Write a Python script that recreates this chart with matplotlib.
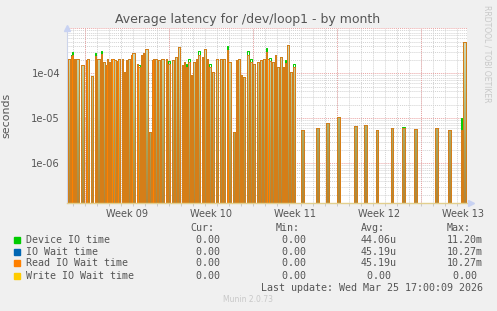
import numpy as np
import matplotlib
matplotlib.use("Agg")
import matplotlib.pyplot as plt
from matplotlib.ticker import FixedLocator, NullFormatter
from matplotlib.colors import LinearSegmentedColormap
from matplotlib.patches import Rectangle

# ---------------- data (time in days from left edge of graph) ----------------
spike_day = [0.11, 0.33, 0.44, 0.58, 0.75, 1.17, 1.56, 1.67, 2.00, 2.33, 2.53, 2.83,
             3.00, 3.23, 3.36, 3.50, 3.67, 3.78, 3.94, 4.14, 4.28, 4.56, 4.75, 4.92,
             5.11, 5.33, 5.44, 5.81, 5.94, 6.17, 6.36, 6.50, 6.86, 7.06, 7.19, 7.33,
             7.61, 7.83, 8.22, 8.44, 8.72, 9.00, 9.28, 9.56, 9.75, 9.92, 10.11, 10.31,
             10.53, 10.75, 10.94, 11.22, 11.42, 11.64, 11.86, 12.06, 12.42, 12.75,
             13.03, 13.31, 13.44, 13.86, 14.08, 14.28, 14.47, 14.64, 14.97, 15.25,
             15.47, 15.81, 16.08, 16.36, 16.56, 16.69, 16.86, 17.06, 17.33, 17.53,
             17.75, 17.97, 18.17, 18.36, 18.58, 18.81,
             19.50, 20.75, 21.58, 22.53, 23.92, 24.78, 25.72, 26.97, 27.94, 28.92,
             30.67, 31.78, 32.83, 33.03]

read_wait = [2.1e-4, 2.4e-4, 2.6e-4, 2.1e-4, 2.1e-4, 1.5e-4, 1.95e-4, 2.1e-4, 8.7e-5, 2.4e-4, 2.1e-4, 2.7e-4,
             1.8e-4, 1.5e-4, 2.1e-4, 1.8e-4, 2.1e-4, 2.1e-4, 1.95e-4, 1.85e-4, 2.1e-4, 2.1e-4, 1.07e-4, 1.95e-4,
             2.1e-4, 2.6e-4, 2.8e-4, 1.64e-4, 1.4e-4, 2.6e-4, 2.9e-4, 3.5e-4, 5.0e-6, 1.95e-4, 2.1e-4, 2.1e-4,
             1.95e-4, 2.1e-4, 2.1e-4, 1.6e-4, 1.95e-4, 2.3e-4, 3.8e-4, 1.5e-4, 1.8e-4, 1.4e-4, 1.8e-4, 9.0e-5,
             1.8e-4, 2.1e-4, 2.6e-4, 2.3e-4, 3.5e-4, 2.1e-4, 1.4e-4, 1.07e-4, 2.1e-4, 2.1e-4,
             2.1e-4, 3.3e-4, 1.8e-4, 5.0e-6, 1.95e-4, 2.1e-4, 9.0e-5, 8.3e-5, 2.6e-4, 1.8e-4,
             1.64e-4, 1.8e-4, 1.95e-4, 2.1e-4, 3.0e-4, 2.1e-4, 1.9e-4, 1.8e-4, 2.5e-4, 1.4e-4,
             2.3e-4, 1.4e-4, 1.7e-4, 4.2e-4, 1.07e-4, 1.4e-4,
             5.4e-6, 6.2e-6, 8.0e-6, 1.07e-5, 6.6e-6, 7.0e-6, 5.4e-6, 6.2e-6, 6.2e-6, 5.9e-6,
             6.2e-6, 5.4e-6, 5.5e-6, 4.9e-4]

device_time = [2.1e-4, 2.6e-4, 3.0e-4, 2.1e-4, 2.1e-4, 1.5e-4, 1.95e-4, 2.1e-4, 8.7e-5, 2.8e-4, 2.1e-4, 3.2e-4,
               1.8e-4, 1.5e-4, 2.1e-4, 1.8e-4, 2.1e-4, 2.1e-4, 1.95e-4, 1.85e-4, 2.1e-4, 2.1e-4, 1.07e-4, 1.95e-4,
               2.1e-4, 2.6e-4, 2.8e-4, 1.64e-4, 1.5e-4, 2.6e-4, 2.9e-4, 3.5e-4, 5.0e-6, 1.95e-4, 2.1e-4, 2.1e-4,
               1.95e-4, 2.1e-4, 2.1e-4, 1.85e-4, 1.95e-4, 2.3e-4, 3.8e-4, 1.5e-4, 1.8e-4, 1.64e-4, 2.1e-4, 9.0e-5,
               1.8e-4, 2.1e-4, 3.2e-4, 2.3e-4, 3.5e-4, 2.1e-4, 1.64e-4, 1.07e-4, 2.1e-4, 2.1e-4,
               2.1e-4, 4.0e-4, 1.8e-4, 5.0e-6, 1.95e-4, 2.1e-4, 9.0e-5, 8.3e-5, 3.2e-4, 2.1e-4,
               1.64e-4, 1.8e-4, 1.95e-4, 2.1e-4, 3.6e-4, 2.1e-4, 2.2e-4, 1.8e-4, 2.5e-4, 1.4e-4,
               2.3e-4, 1.4e-4, 1.95e-4, 4.2e-4, 1.07e-4, 1.64e-4,
               5.4e-6, 6.2e-6, 8.0e-6, 1.07e-5, 6.6e-6, 7.0e-6, 5.4e-6, 6.2e-6, 6.4e-6, 5.9e-6,
               6.2e-6, 5.4e-6, 1.0e-5, 5.0e-4]

week_labels = ["Week 09", "Week 10", "Week 11", "Week 12", "Week 13"]
week_label_day = [5.0, 12.0, 19.0, 26.0, 33.0]
week_start_day = [1.5, 8.5, 15.5, 22.5, 29.5]

legend_names = ["Device IO time", "IO Wait time", "Read IO Wait time", "Write IO Wait time"]
legend_colors = ["#00CC00", "#0066B3", "#FF8000", "#FFCC00"]
cur_vals = [" 0.00", " 0.00", " 0.00", " 0.00"]
min_vals = [" 0.00", " 0.00", " 0.00", " 0.00"]
avg_vals = ["44.06u", "45.19u", "45.19u", " 0.00"]
max_vals = ["11.20m", "10.27m", "10.27m", " 0.00"]

# ---------------- figure ----------------
W, H = 497, 311
fig = plt.figure(figsize=(W / 100, H / 100), dpi=100, facecolor="#F0F0F0")
L, R, T, B = 67, 467, 28, 203
ax = fig.add_axes([L / W, 1 - B / H, (R - L) / W, (B - T) / H])
ax.set_facecolor("white")

x_max = (R - L) / 12.0
floor = 1e-9
max_width = 0.22


def curve(days, vals):
    xs, ys = [], []
    for i, (d, v) in enumerate(zip(days, vals)):
        gap = (days[i + 1] - d) if i + 1 < len(days) else max_width * 2
        w = min(max_width, 0.62 * gap)
        xs += [d, d, d + w, d + w]
        ys += [floor, v, v, floor]
    return np.array(xs), np.array(ys)


dx, dev_c = curve(spike_day, device_time)
rx, read_c = curve(spike_day, read_wait)

ax.set_yscale("log")

# grid
for i in range(0, 34):
    ax.axvline(i + 0.5, color="#d2d2d2", lw=0.7, ls=(0, (1, 1)), zorder=0)
for d in week_start_day:
    ax.axvline(d, color="#e9a3a3", lw=0.7, ls=(0, (1, 1)), zorder=0.5)
for e in range(-7, -2):
    for s in range(2, 10):
        ax.axhline(s * 10.0 ** e, color="#d2d2d2", lw=0.7, ls=(0, (1, 1)), zorder=0)
for e in [-6, -5, -4, -3]:
    ax.axhline(10.0 ** e, color="#e9a3a3", lw=0.7, ls=(0, (1, 1)), zorder=0.5)

# olive gradient fill under the read curve
poly = ax.fill_between(rx, floor, read_c, color="none", lw=0, zorder=1)
grad = np.linspace(0, 1, 256).reshape(-1, 1)
cmap = LinearSegmentedColormap.from_list("olive", ["#b0863a", "#a9a25c", "#b9c792", "#d6dfc4"])
im = ax.imshow(grad, cmap=cmap, extent=[0, 1, 0, 1], transform=ax.transAxes,
               origin="lower", aspect="auto", zorder=1.5, interpolation="bilinear")
im.set_clip_path(poly.get_paths()[0], transform=ax.transData)

ax.plot(dx, dev_c, color=legend_colors[0], lw=0.7, zorder=3)
ax.plot(rx, read_c, color=legend_colors[1], lw=0.6, zorder=3.5)
ax.plot(rx, read_c, color=legend_colors[2], lw=0.6, zorder=4)

ax.set_xlim(0, x_max)
ax.set_ylim(1.3e-7, 1.02e-3)
ax.set_autoscale_on(False)

ax.yaxis.set_major_locator(FixedLocator([1e-6, 1e-5, 1e-4]))
ax.set_yticklabels(["1e-06", "1e-05", "1e-04"])
ax.yaxis.set_minor_locator(FixedLocator([]))
ax.yaxis.set_minor_formatter(NullFormatter())
ax.tick_params(axis="y", which="both", length=0, pad=5, labelsize=7.2, labelcolor="#555555")

ax.xaxis.set_major_locator(FixedLocator(week_label_day))
ax.set_xticklabels(week_labels)
ax.xaxis.set_minor_locator(FixedLocator([i + 0.5 for i in range(34)]))
ax.tick_params(axis="x", which="major", length=0, pad=4, labelsize=7, labelcolor="#555555")
ax.tick_params(axis="x", which="minor", length=2, color="#c8c8c8", width=0.7)

for s in ["top", "right"]:
    ax.spines[s].set_visible(False)
ax.spines["left"].set_color("#ccd4ea")
ax.spines["left"].set_linewidth(0.8)
ax.spines["bottom"].set_color("#e2cf8e")
ax.spines["bottom"].set_linewidth(1.0)
ax.spines["bottom"].set_zorder(5)

# axis arrows
ax.plot([0], [1.0], marker="^", color="#c8d2f2", markersize=5, transform=ax.transAxes,
        clip_on=False, zorder=6)
ax.plot([1.0 + 4 / 400], [0], marker=">", color="#c8d2f2", markersize=5, transform=ax.transAxes,
        clip_on=False, zorder=6)

ax.set_ylabel("seconds", fontsize=7.9, color="#555555", labelpad=8)
ax.yaxis.set_label_coords((11 - L) / (R - L), 0.5)

fig.text(248 / W, 1 - 19.3 / H, "Average latency for /dev/loop1 - by month",
         ha="center", va="center", fontsize=9.0, color="#555555")
fig.text(487 / W, 1 - 5 / H, "RRDTOOL / TOBI OETIKER", rotation=270, ha="center", va="top",
         fontsize=5.5, color="#c8c8c8")

mono = "DejaVu Sans Mono"
fs = 7.2
col_x = [190, 276, 361, 447]
for cx, hdr in zip(col_x, ["Cur:", "Min:", "Avg:", "Max:"]):
    fig.text(cx / W, 1 - 228.3 / H, hdr, ha="left", va="center", family=mono, fontsize=fs, color="#555555")
row_y = [240, 251.7, 263.3, 275.7]
for i, ry in enumerate(row_y):
    fig.patches.append(Rectangle((14 / W, 1 - (ry + 3) / H), 6 / W, 6 / H,
                                 transform=fig.transFigure, color=legend_colors[i], figure=fig))
    fig.text(26 / W, 1 - ry / H, legend_names[i], ha="left", va="center", family=mono,
             fontsize=fs, color="#555555")
    for cx, vals in zip(col_x, [cur_vals, min_vals, avg_vals, max_vals]):
        fig.text(cx / W, 1 - ry / H, vals[i], ha="left", va="center", family=mono,
                 fontsize=fs, color="#555555")

fig.text(483 / W, 1 - 287.7 / H, "Last update: Wed Mar 25 17:00:09 2026", ha="right", va="center",
         family=mono, fontsize=fs, color="#555555")
fig.text(248 / W, 1 - 300 / H, "Munin 2.0.73", ha="center", va="center", fontsize=5.5, color="#c8c8c8")

fig.savefig("out.png", dpi=100, facecolor=fig.get_facecolor())
